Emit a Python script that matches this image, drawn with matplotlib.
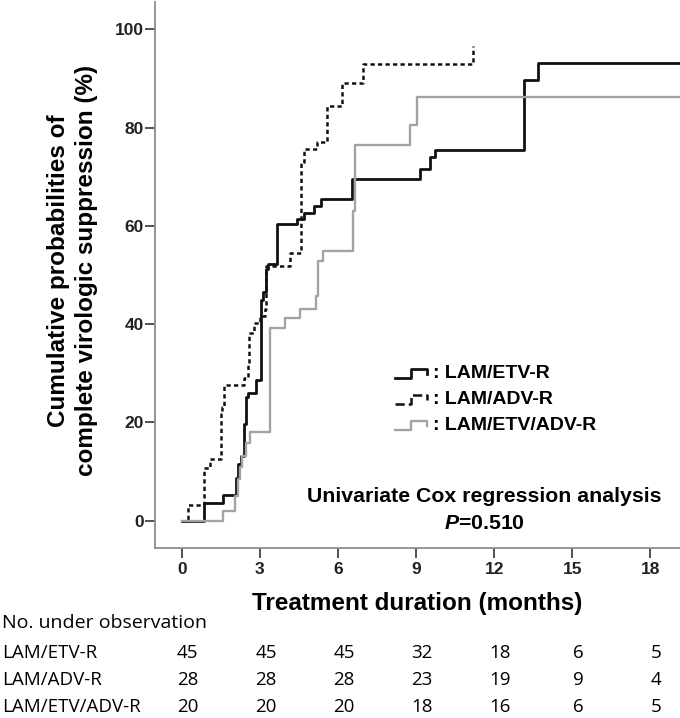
import numpy as np
import matplotlib
matplotlib.use("Agg")
import matplotlib.pyplot as plt
import matplotlib.transforms as mtransforms
from matplotlib.legend_handler import HandlerBase
from matplotlib.lines import Line2D

plt.rcParams.update({
    "font.family": "Liberation Sans",
    "mathtext.fontset": "custom",
    "mathtext.it": "Liberation Sans:italic:bold",
    "mathtext.rm": "Liberation Sans:bold",
})

# ------------------------------------------------------------
# Data
# ------------------------------------------------------------
etv_t = [0, 0.84, 1.59, 2.07, 2.16, 2.27, 2.40, 2.46, 2.53, 2.86, 3.03, 3.11,
         3.24, 3.30, 3.64, 4.42, 4.68, 5.07, 5.33, 6.55, 9.14, 9.53, 9.74,
         13.13, 13.68, 19.2]
etv_v = [0, 3.7, 5.3, 8.7, 11.5, 13.2, 19.7, 25.2, 25.9, 28.6, 45.0, 46.5,
         51.2, 52.2, 60.4, 61.3, 62.7, 64.0, 65.4, 69.5, 71.6, 74.1, 75.4,
         89.6, 93.2, 93.2]

adv_t = [0, 0.25, 0.84, 1.10, 1.49, 1.52, 1.55, 1.62, 2.40, 2.53, 2.60, 2.79,
         2.99, 3.18, 3.22, 4.14, 4.59, 4.70, 5.20, 5.58, 6.15, 6.96, 11.20]
adv_v = [0, 3.2, 10.8, 12.5, 13.2, 21.8, 23.1, 27.6, 29.0, 32.0, 38.2, 40.3,
         41.6, 43.0, 51.9, 54.5, 73.0, 75.7, 77.1, 84.3, 89.1, 92.9, 96.6]

both_t = [0, 1.58, 2.03, 2.14, 2.22, 2.33, 2.45, 2.62, 3.38, 3.97, 4.55, 5.14,
          5.23, 5.42, 6.57, 6.64, 8.75, 9.05, 19.2]
both_v = [0, 2.0, 5.0, 8.5, 11.0, 13.2, 15.8, 18.0, 39.3, 41.3, 43.0, 45.8,
          52.9, 54.9, 63.0, 76.5, 80.6, 86.2, 86.2]

groups = ["LAM/ETV-R", "LAM/ADV-R", "LAM/ETV/ADV-R"]
risk_months = [0, 3, 6, 9, 12, 15, 18]
risk_etv = [45, 45, 45, 32, 18, 6, 5]
risk_adv = [28, 28, 28, 23, 19, 9, 4]
risk_both = [20, 20, 20, 18, 16, 6, 5]

y_ticks = [0, 20, 40, 60, 80, 100]


# ------------------------------------------------------------
# Legend handle drawn as a small step
# ------------------------------------------------------------
class StepHandler(HandlerBase):
    def create_artists(self, legend, orig_handle, xdescent, ydescent,
                       width, height, fontsize, trans):
        x0, y0 = -xdescent, -ydescent
        xs = [x0, x0 + 0.5 * width, x0 + 0.5 * width, x0 + width, x0 + width]
        ys = [y0 + 0.0 * height, y0 + 0.0 * height, y0 + 0.65 * height,
              y0 + 0.65 * height, y0 + 0.3 * height]
        line = Line2D(xs, ys, color=orig_handle.get_color(),
                      linewidth=orig_handle.get_linewidth(),
                      linestyle=orig_handle.get_linestyle())
        line.set_transform(trans)
        return [line]


fig = plt.figure(figsize=(6.8, 7.18), dpi=100)
ax = fig.add_axes([155 / 680, 1 - 547.7 / 718, 525 / 680, 546 / 718])

l1, = ax.step(etv_t, etv_v, where="post", color="#111111", lw=2.0,
              label=": " + groups[0], clip_on=False)
l2, = ax.step(adv_t, adv_v, where="post", color="#111111", lw=1.8,
              linestyle=(0, (1.7, 1.3)), label=": " + groups[1], clip_on=False)
l3, = ax.step(both_t, both_v, where="post", color="#a3a3a3", lw=1.7,
              label=": " + groups[2], clip_on=False)

ax.set_xlim(-1.03, 19.14)
ax.set_ylim(-5.47, 105.6)
ax.set_xticks(risk_months)
ax.set_yticks(y_ticks)

for s in ["top", "right"]:
    ax.spines[s].set_visible(False)
for s in ["left", "bottom"]:
    ax.spines[s].set_color("#8c8c8c")
    ax.spines[s].set_linewidth(1.3)

ax.tick_params(axis="both", direction="out", length=7, width=1.1,
               color="#222222", labelsize=12.5)
ax.tick_params(axis="x", pad=3)
ax.tick_params(axis="y", pad=1)
for lab in ax.get_xticklabels() + ax.get_yticklabels():
    lab.set_fontweight("bold")
    lab.set_color("#222222")

ax.set_xlabel("Treatment duration (months)", fontsize=17.5,
              fontweight="bold", va="center")
ax.xaxis.set_label_coords(0.5, -0.103)
ax.set_ylabel("Cumulative probabilities of\ncomplete virologic suppression (%)",
              fontsize=17.5, fontweight="bold", va="center", ha="center",
              linespacing=1.25)
ax.yaxis.set_label_coords(-0.157, 0.507)

leg = ax.legend(handles=[l1, l2, l3], handler_map={Line2D: StepHandler()},
                loc="center left", bbox_to_anchor=(0.457, 0.272),
                frameon=False, fontsize=14, handlelength=1.65,
                handletextpad=0.3, labelspacing=0.42, borderpad=0,
                borderaxespad=0)
for t in leg.get_texts():
    t.set_fontweight("bold")

ax.text(0.627, 0.0934, "Univariate Cox regression analysis",
        transform=ax.transAxes, ha="center", va="center",
        fontsize=15.3, fontweight="bold")
ax.text(0.627, 0.0438, r"$\mathit{P}$=0.510", transform=ax.transAxes,
        ha="center", va="center", fontsize=15.3, fontweight="bold")

# ------------------------------------------------------------
# Number at risk table
# ------------------------------------------------------------
tfont = ["Open Sans", "DejaVu Sans"]
fig.text(2 / 680, 1 - 622.7 / 718, "No. under observation", family=tfont,
         fontsize=14, ha="left", va="center")

row_y = [653.3, 680.0, 707.3]
trans = mtransforms.blended_transform_factory(ax.transData, fig.transFigure)
offset = mtransforms.ScaledTranslation(6 / 100, 0, fig.dpi_scale_trans)
for name, counts, yy in zip(groups, [risk_etv, risk_adv, risk_both], row_y):
    fig.text(2 / 680, 1 - yy / 718, name, family=tfont, fontsize=13.5,
             ha="left", va="center")
    for m, c in zip(risk_months, counts):
        ax.text(m, 1 - yy / 718, str(c), transform=trans + offset,
                family=tfont, fontsize=13.5, ha="center", va="center",
                clip_on=False)

fig.savefig("out.png", dpi=100)
